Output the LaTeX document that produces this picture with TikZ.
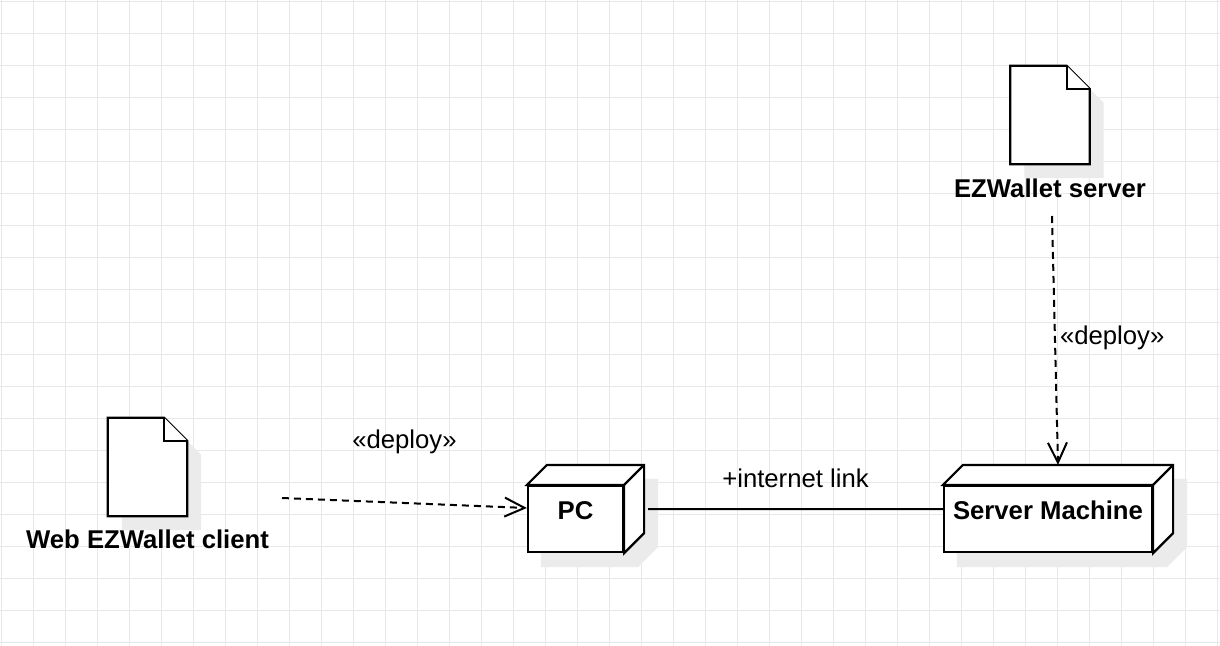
\documentclass[tikz,border=0pt]{standalone}
\usepackage{fontspec}
\setmainfont{Liberation Sans}
\usetikzlibrary{positioning,arrows.meta,backgrounds}
\definecolor{gridgray}{HTML}{E8E8E8}
\definecolor{shadowgray}{HTML}{EBEBEB}
\tikzset{
  shapeline/.style={draw=black,line width=2.2bp,fill=white},
  nodebox/.style={draw=black,line width=2.2bp,fill=white,inner sep=0pt,
    text height=33bp,text depth=33bp,font=\fontsize{25.7bp}{30bp}\selectfont\bfseries},
  docbox/.style={inner sep=0pt,minimum width=79bp,minimum height=98bp},
  namelbl/.style={inner sep=0pt,anchor=base,font=\fontsize{25.7bp}{30bp}\selectfont\bfseries},
  linklbl/.style={inner sep=0pt,font=\fontsize{25.7bp}{30bp}\selectfont},
  deployline/.style={line width=2bp,dash pattern=on 7bp off 5bp,
    -{Straight Barb[length=20bp,width=19bp]}},
  linkline/.style={line width=2bp},
  shadowfill/.style={fill=shadowgray},
}
\begin{document}
\begin{tikzpicture}[x=1bp,y=-1bp]
  \useasboundingbox (0,0) rectangle (1220,646);

  % grid
  \begin{scope}[on background layer]
    \fill[white] (0,0) rectangle (1220,646);
    \foreach \gx in {1,33,...,1217}
      \draw[gridgray,line width=1bp] (\gx,0) -- (\gx,646);
    \foreach \gy in {2,34,...,642}
      \draw[gridgray,line width=1bp] (0,\gy) -- (1220,\gy);
  \end{scope}

  % nodes
  \node[nodebox,minimum width=95bp]  (pc)  at (575.5,519) {PC};
  \node[nodebox,minimum width=208bp] (srv) at (1048,519)  {Server Machine};
  \node[docbox] (cl) at (147.5,467) {};
  \node[docbox] (sw) at (1050,115)  {};

  % shadows
  \begin{scope}[on background layer]
    \fill[shadowfill] ([shift={(14,14)}]pc.north west) -- ++(20,-20)
      -| ([shift={(34,-6)}]pc.south east) -- ([shift={(14,14)}]pc.south east)
      -- ([shift={(14,14)}]pc.south west) -- cycle;
    \fill[shadowfill] ([shift={(14,14)}]srv.north west) -- ++(20,-20)
      -| ([shift={(34,-6)}]srv.south east) -- ([shift={(14,14)}]srv.south east)
      -- ([shift={(14,14)}]srv.south west) -- cycle;
    \fill[shadowfill] ([shift={(14,14)}]cl.north west) -- ([shift={(-9,14)}]cl.north east)
      -- ([shift={(14,37)}]cl.north east) -- ([shift={(14,14)}]cl.south east)
      -- ([shift={(14,14)}]cl.south west) -- cycle;
    \fill[shadowfill] ([shift={(14,14)}]sw.north west) -- ([shift={(-9,14)}]sw.north east)
      -- ([shift={(14,37)}]sw.north east) -- ([shift={(14,14)}]sw.south east)
      -- ([shift={(14,14)}]sw.south west) -- cycle;
  \end{scope}

  % 3d faces
  \draw[shapeline] (pc.north west) -- ++(20,-20) -| ([shift={(20,-20)}]pc.south east)
    -- (pc.south east) -- (pc.north east) -- cycle;
  \draw[shapeline] (pc.north east) -- ++(20,-20);
  \draw[shapeline] (srv.north west) -- ++(20,-20) -| ([shift={(20,-20)}]srv.south east)
    -- (srv.south east) -- (srv.north east) -- cycle;
  \draw[shapeline] (srv.north east) -- ++(20,-20);

  % documents
  \draw[shapeline] (cl.north west) -- ([shift={(-23,0)}]cl.north east)
    -- ([shift={(0,23)}]cl.north east) -- (cl.south east) -- (cl.south west) -- cycle;
  \draw[shapeline] ([shift={(-23,0)}]cl.north east) |- ([shift={(0,23)}]cl.north east);
  \draw[shapeline] (sw.north west) -- ([shift={(-23,0)}]sw.north east)
    -- ([shift={(0,23)}]sw.north east) -- (sw.south east) -- (sw.south west) -- cycle;
  \draw[shapeline] ([shift={(-23,0)}]sw.north east) |- ([shift={(0,23)}]sw.north east);

  \node[namelbl] (cllbl) at ([yshift=-32bp]cl.south) {Web EZWallet client};
  \node[namelbl] (swlbl) at ([yshift=-33bp]sw.south) {EZWallet server};

  % connectors
  \coordinate (clout) at (282,498);
  \coordinate (swout) at (1052,216);
  \draw[deployline] (clout) -- ([yshift=11bp]pc.west)
    node[linklbl,midway,anchor=base,yshift=55bp] {«deploy»};
  \draw[deployline] (swout) -- ([shift={(10,-20)}]srv.north)
    node[linklbl,midway,anchor=base west,xshift=4bp,yshift=-4.5bp] {«deploy»};
  \draw[linkline] ([shift={(24,-10)}]pc.east) -- ([yshift=10bp]srv.west)
    node[linklbl,midway,anchor=base,yshift=22bp] {+internet link};

\end{tikzpicture}
\end{document}
